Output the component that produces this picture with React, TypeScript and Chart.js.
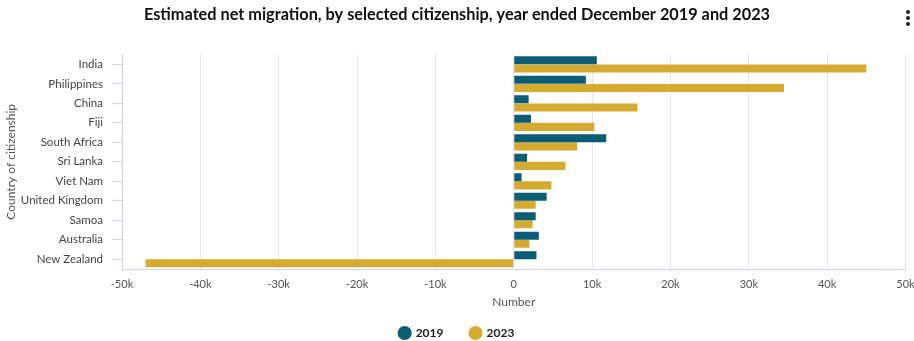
import React, { useEffect, useRef } from "react";
import { Chart, registerables } from "chart.js";

Chart.register(...registerables);

const categories = [
  "India",
  "Philippines",
  "China",
  "Fiji",
  "South Africa",
  "Sri Lanka",
  "Viet Nam",
  "United Kingdom",
  "Samoa",
  "Australia",
  "New Zealand",
];
const values2019 = [10600, 9200, 1900, 2200, 11800, 1700, 1000, 4200, 2800, 3200, 2900];
const values2023 = [45000, 34500, 15800, 10300, 8100, 6600, 4800, 2800, 2400, 2000, -47000];
const seriesNames = ["2019", "2023"];
const titleText = "Estimated net migration, by selected citizenship, year ended December 2019 and 2023";
const xTitle = "Number";
const yTitle = "Country of citizenship";

const FONT = "Lato, 'Open Sans', sans-serif";

export default function App() {
  const ref = useRef<HTMLCanvasElement | null>(null);

  useEffect(() => {
    document.body.style.margin = "0";
    const canvas = ref.current;
    if (!canvas) return;
    const chart = new Chart(canvas, {
      type: "bar",
      data: {
        labels: categories,
        datasets: [
          {
            label: seriesNames[0],
            data: values2019,
            backgroundColor: "#0b5d76",
            borderWidth: 0,
            categoryPercentage: 0.84,
            barPercentage: 0.98,
          },
          {
            label: seriesNames[1],
            data: values2023,
            backgroundColor: "#d4ab30",
            borderWidth: 0,
            categoryPercentage: 0.84,
            barPercentage: 0.98,
          },
        ],
      },
      options: {
        indexAxis: "y",
        responsive: false,
        animation: false,
        layout: { padding: { left: 0, right: 0, top: 0, bottom: -8 } },
        plugins: {
          title: {
            display: true,
            text: titleText,
            color: "#111",
            font: { family: FONT, size: 16.3, weight: "bold" },
            padding: { top: 5, bottom: 30 },
          },
          legend: {
            position: "bottom",
            labels: {
              usePointStyle: true,
              pointStyle: "circle",
              boxWidth: 10,
              boxHeight: 10,
              padding: 27,
              color: "#222",
              font: { family: FONT, size: 12, weight: "bold" },
            },
          },
          tooltip: { enabled: false },
        },
        scales: {
          x: {
            type: "linear",
            min: -50000,
            max: 50000,
            ticks: {
              stepSize: 10000,
              color: "#555",
              padding: 9,
              font: { family: FONT, size: 11 },
              callback: (v: any) => (Number(v) === 0 ? "0" : Number(v) / 1000 + "k"),
            },
            grid: { color: "#e6e6e6", drawTicks: false },
            border: { color: "#ccd6eb", width: 1 },
            title: {
              display: true,
              text: xTitle,
              color: "#555",
              font: { family: FONT, size: 12 },
              padding: { top: 0, bottom: -9 },
            },
            afterFit: (scale: any) => {
              scale.height = 31;
              scale.paddingRight = 8.5;
              scale.paddingLeft = 0;
            },
          },
          y: {
            type: "category",
            ticks: {
              color: "#444",
              padding: 9,
              font: { family: FONT, size: 11.5 },
            },
            grid: {
              offset: false,
              drawOnChartArea: false,
              drawTicks: true,
              tickLength: 10,
              color: "#ccd6eb",
            },
            border: { color: "#ccd6eb", width: 1 },
            title: {
              display: true,
              text: yTitle,
              color: "#555",
              font: { family: FONT, size: 12 },
              padding: { top: 4, bottom: 4 },
            },
            afterFit: (scale: any) => {
              scale.width = 122;
            },
          },
        },
      },
    });
    return () => chart.destroy();
  }, []);

  const dot: React.CSSProperties = {
    position: "absolute",
    left: 906,
    width: 4,
    height: 4,
    borderRadius: 2,
    background: "#222",
  };

  return (
    <div style={{ position: "relative", width: 914, height: 341, background: "#fff" }}>
      <canvas ref={ref} width={914} height={341} style={{ display: "block" }} />
      <div style={{ ...dot, top: 10 }} />
      <div style={{ ...dot, top: 16 }} />
      <div style={{ ...dot, top: 22 }} />
    </div>
  );
}
